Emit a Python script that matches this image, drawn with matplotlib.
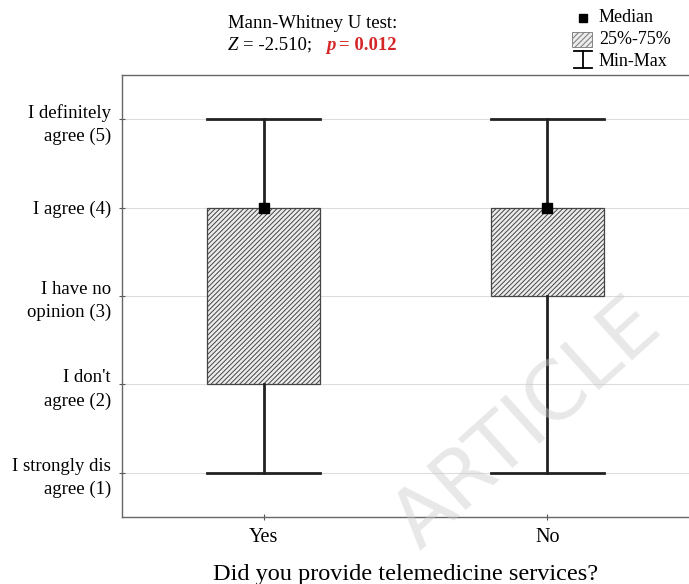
import matplotlib
matplotlib.use("Agg")
import matplotlib.pyplot as plt
from matplotlib.patches import Rectangle
from matplotlib.lines import Line2D

categories = ["Yes", "No"]
medians = [4, 4]
q25 = [2, 3]
q75 = [4, 4]
mins = [1, 1]
maxs = [5, 5]
ytick_vals = [1, 2, 3, 4, 5]
ytick_labels = ["I strongly dis\nagree (1)", "I don't\nagree (2)", "I have no\nopinion (3)",
                "I agree (4)", "I definitely\nagree (5)"]

plt.rcParams['font.family'] = ['Liberation Serif', 'DejaVu Serif']
plt.rcParams['hatch.color'] = '#a5a5a5'
plt.rcParams['hatch.linewidth'] = 0.7

W, H = 689, 584
fig = plt.figure(figsize=(6.89, 5.84), dpi=100)
ax = fig.add_axes([122/W, 1 - 517/H, 1 - 122/W, (517 - 75)/H])

def fx(px):
    return px / W

def fy(py):
    return 1 - py / H

for v in ytick_vals:
    ax.axhline(v, color='#dddddd', lw=0.8, zorder=0)

w = 0.4
for i, c in enumerate(categories):
    ax.add_patch(Rectangle((i - w/2, q25[i]), w, q75[i] - q25[i], facecolor='#ececec',
                           edgecolor='#444444', hatch='///////', lw=0.9, zorder=2))
    ax.plot([i, i], [mins[i], q25[i]], color='#222222', lw=2, zorder=3)
    ax.plot([i, i], [q75[i], maxs[i]], color='#222222', lw=2, zorder=3)
    ax.plot([i - w/2, i + w/2], [mins[i], mins[i]], color='#222222', lw=2, zorder=3)
    ax.plot([i - w/2, i + w/2], [maxs[i], maxs[i]], color='#222222', lw=2, zorder=3)
    ax.plot([i], [medians[i]], marker='s', color='black', ms=7, zorder=4)

ax.set_xlim(-0.5, 1.5)
ax.set_ylim(0.5, 5.5)
ax.set_xticks(range(len(categories)))
ax.set_xticklabels(categories, fontsize=14.5)
ax.set_yticks(ytick_vals)
ax.set_yticklabels(ytick_labels, fontsize=13.5, ha='right', linespacing=1.45)
ax.tick_params(direction='inout', length=4, color='#555555', pad=6)
ax.tick_params(axis='x', pad=6)
for s in ['left', 'bottom', 'top']:
    ax.spines[s].set_color('#666666')
    ax.spines[s].set_linewidth(1.0)
ax.spines['right'].set_visible(False)
ax.set_xlabel("Did you provide telemedicine services?", fontsize=17.5, labelpad=12)

# Title
fig.text(fx(313), fy(23), "Mann-Whitney U test:", ha='center', va='center', fontsize=13.5)
fig.text(fx(228), fy(45), "Z", ha='left', va='center', fontsize=13.5, style='italic')
fig.text(fx(243), fy(45), "= -2.510;", ha='left', va='center', fontsize=13.5)
fig.text(fx(326), fy(45), "p", ha='left', va='center', fontsize=13.5, color='#d62728',
         fontweight='bold', style='italic')
fig.text(fx(339), fy(45), "= 0.012", ha='left', va='center', fontsize=13.5, color='#d62728',
         fontweight='bold')

# Legend
lx = 583
fig.patches.append(Rectangle((fx(lx - 4), fy(22)), 8/W, 8/H, transform=fig.transFigure,
                             facecolor='black', edgecolor='black'))
fig.patches.append(Rectangle((fx(572), fy(47)), 20/W, 15/H, transform=fig.transFigure,
                             facecolor='#ececec', edgecolor='#777777', hatch='//////', lw=0.6))
fig.lines.append(Line2D([fx(lx - 9), fx(lx + 9)], [fy(51), fy(51)],
                        transform=fig.transFigure, color='black', lw=1.3))
fig.lines.append(Line2D([fx(lx), fx(lx)], [fy(51), fy(68)],
                        transform=fig.transFigure, color='black', lw=1.3))
fig.lines.append(Line2D([fx(lx - 9), fx(lx + 9)], [fy(68), fy(68)],
                        transform=fig.transFigure, color='black', lw=1.3))
fig.text(fx(599), fy(18), "Median", ha='left', va='center', fontsize=13)
fig.text(fx(599), fy(40), "25%-75%", ha='left', va='center', fontsize=13)
fig.text(fx(599), fy(62), "Min-Max", ha='left', va='center', fontsize=13)

# Watermark
fig.text(fx(528), fy(425), "ARTICLE", rotation=42, ha='center', va='center',
         fontsize=58, color='#cccccc', alpha=0.45, family='DejaVu Sans', zorder=0)

fig.savefig("out.png", dpi=100)
